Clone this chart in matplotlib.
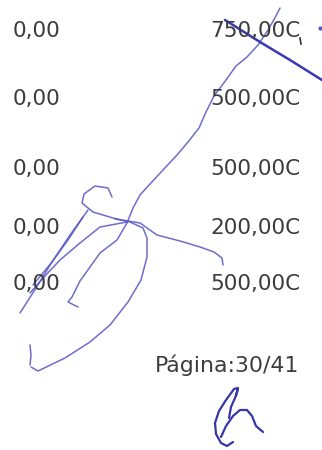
import matplotlib.pyplot as plt

# values printed on the scanned page
left_values = ["0,00", "0,00", "0,00", "0,00", "0,00"]
right_values = ["750,00C", "500,00C", "500,00C", "200,00C", "500,00C"]
row_baselines = [37, 105, 175, 234, 290]
page_label = "Página:30/41"

# handwritten ink strokes (page pixel coordinates, x right / y down)
stroke_main = [(280, 8), (276, 16), (268, 30), (258, 45), (247, 57), (236, 66),
               (226, 80), (214, 96), (206, 112), (199, 128), (188, 142),
               (177, 155), (163, 170), (150, 184), (140, 195), (133, 208),
               (127, 223), (117, 240), (100, 253), (90, 267), (80, 281),
               (72, 297), (68, 302), (78, 307)]
stroke_cross = [(225, 20), (260, 42), (290, 60), (322, 80)]
stroke_loop = [(112, 197), (108, 188), (95, 186), (84, 194), (82, 203),
               (93, 212), (113, 218), (130, 222), (143, 228), (147, 238),
               (147, 257), (141, 280), (128, 302), (110, 325), (90, 342),
               (65, 358), (38, 371), (31, 367)]
stroke_tail = [(115, 219), (140, 223), (157, 235), (180, 241), (200, 247),
               (214, 252), (222, 258), (223, 265)]
stroke_left1 = [(88, 210), (70, 235), (52, 262), (36, 288), (20, 313)]
stroke_left2 = [(127, 222), (100, 227), (80, 243), (60, 260), (44, 277), (30, 293)]
stroke_left3 = [(83, 217), (68, 240), (52, 262), (33, 285)]
stroke_dash = [(30, 345), (31, 355), (30, 365)]
sig_c = [(236, 396), (238, 388), (234, 389), (226, 400), (219, 411), (215, 423),
         (216, 434), (221, 443), (227, 446), (233, 442)]
sig_c_inner = [(238, 389), (235, 398), (231, 407), (229, 418)]
sig_u = [(221, 437), (226, 426), (233, 416), (240, 410), (247, 410), (252, 416),
         (256, 426), (263, 432)]

fig = plt.figure(figsize=(3.22, 4.5), dpi=100)
ax = fig.add_axes([0, 0, 1, 1])
ax.set_xlim(0, 322)
ax.set_ylim(450, 0)
ax.axis('off')

text_color = '#3c3c3c'
for y, lv, rv in zip(row_baselines, left_values, right_values):
    ax.text(13, y, lv, fontsize=15.5, color=text_color, va='baseline', ha='left')
    ax.text(210, y, rv, fontsize=15.5, color=text_color, va='baseline', ha='left')
ax.text(155, 372, page_label, fontsize=15.8, color=text_color, va='baseline', ha='left')

ink = '#5454c4'
for stroke in [stroke_main, stroke_loop, stroke_tail, stroke_left1, stroke_left2,
               stroke_left3, stroke_dash]:
    xs, ys = zip(*stroke)
    ax.plot(xs, ys, color=ink, lw=1.1, alpha=0.85, solid_capstyle='round')

xs, ys = zip(*stroke_cross)
ax.plot(xs, ys, color='#3a3ab0', lw=1.8, solid_capstyle='round')
ax.plot([320], [28], 'o', color=ink, ms=2)
ax.plot([300, 301], [38, 44], color='#333333', lw=1.2)

for stroke in [sig_c, sig_c_inner, sig_u]:
    xs, ys = zip(*stroke)
    ax.plot(xs, ys, color='#3636a8', lw=1.6, solid_capstyle='round',
            solid_joinstyle='round')

fig.savefig('out.png', dpi=100, facecolor='white')
